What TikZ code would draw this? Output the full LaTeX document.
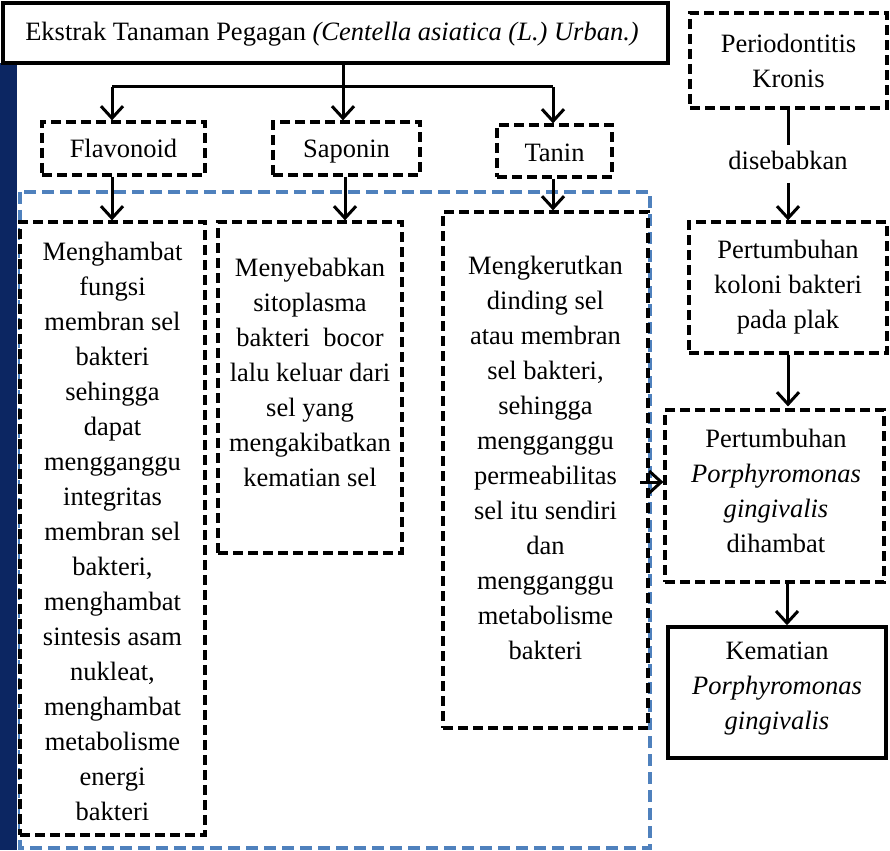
\documentclass[tikz,border=0pt]{standalone}
\usepackage{fontspec}
\setmainfont{Liberation Serif}
\usetikzlibrary{arrows.meta}
\definecolor{barblue}{RGB}{12,38,98}
\definecolor{dashblue}{RGB}{79,129,189}
\tikzset{
  dbox/.style={draw=black, line width=3.2pt, dash pattern=on 10pt off 5pt, fill=white, inner sep=0pt},
  sbox/.style={draw=black, line width=3.5pt, fill=white, inner sep=0pt},
  txt/.style={inner sep=0pt, align=center, font=\fontsize{26.5}{35}\selectfont},
  conn/.style={line width=3pt},
  arr/.style={line width=3pt, -{Straight Barb[length=12pt,width=22pt,line width=3pt]}},
}
\begin{document}
\begin{tikzpicture}[x=1pt,y=-1pt]
\useasboundingbox (0,0) rectangle (890,850);
% left bar
\fill[barblue] (0,63) rectangle (17,850);
% blue dashed region
\draw[dashblue, line width=4pt, dash pattern=on 12pt off 6pt] (20,192) rectangle (650,848);

% top box
\node[sbox, minimum width=665pt, minimum height=60pt] (top) at (335.5,33) {};
\node[txt, anchor=base] (toptxt) at (332,41) {Ekstrak Tanaman Pegagan \textit{(Centella asiatica (L.) Urban.)}};

% compound boxes
\node[dbox, minimum width=163pt, minimum height=53pt] (fla) at (123.5,148.5) {};
\node[txt, anchor=base] (flatxt) at (123.5,158) {Flavonoid};
\node[dbox, minimum width=147pt, minimum height=53pt] (sap) at (346.5,148.5) {};
\node[txt, anchor=base] (saptxt) at (346.5,158) {Saponin};
\node[dbox, minimum width=115pt, minimum height=52pt] (tan) at (554.5,151) {};
\node[txt, anchor=base] (tantxt) at (554.5,162) {Tanin};

% effect boxes
\node[dbox, minimum width=185pt, minimum height=613pt] (flab) at (112.5,528.5) {};
\node[txt] (flabtxt) at (112.5,531.5) {Menghambat\\fungsi\\membran sel\\bakteri\\sehingga\\dapat\\mengganggu\\integritas\\membran sel\\bakteri,\\menghambat\\sintesis asam\\nukleat,\\menghambat\\metabolisme\\energi\\bakteri};
\node[dbox, minimum width=184pt, minimum height=331pt] (sapb) at (310,387.5) {};
\node[txt] (sapbtxt) at (310,372) {Menyebabkan\\sitoplasma\\bakteri~~bocor\\lalu keluar dari\\sel yang\\mengakibatkan\\kematian sel};
\node[dbox, minimum width=205pt, minimum height=516pt] (tanb) at (545.5,470) {};
\node[txt] (tanbtxt) at (545.5,457.5) {Mengkerutkan\\dinding sel\\atau membran\\sel bakteri,\\sehingga\\mengganggu\\permeabilitas\\sel itu sendiri\\dan\\mengganggu\\metabolisme\\bakteri};

% right column
\node[dbox, minimum width=197pt, minimum height=95pt] (per) at (788.5,60.5) {};
\node[txt] (pertxt) at (788.5,61) {Periodontitis\\Kronis};
\node[txt, anchor=base] (dis) at (788,170) {disebabkan};
\node[dbox, minimum width=198pt, minimum height=131pt] (kol) at (788,287.5) {};
\node[txt] (koltxt) at (788,287) {Pertumbuhan\\koloni bakteri\\pada plak};
\node[dbox, minimum width=219pt, minimum height=172pt] (dih) at (774.5,496) {};
\node[txt] (dihtxt) at (776,491) {Pertumbuhan\\\textit{Porphyromonas}\\\textit{gingivalis}\\dihambat};
\node[sbox, minimum width=218pt, minimum height=131pt] (kem) at (777,692.5) {};
\node[txt] (kemtxt) at (777,689) {Kematian\\\textit{Porphyromonas}\\\textit{gingivalis}};

% connectors from top box
\coordinate (j) at (343,87);
\coordinate (jf) at (112,87);
\coordinate (jt) at (553,87);
\draw[conn] (top.south -| j) -- (j);
\draw[conn] (jf) -- (jt);
\draw[arr] (jf) -- (jf |- fla.north);
\draw[arr] (j) -- (j |- sap.north);
\draw[arr] (jt) -- (jt |- tan.north);
% compound to effect
\coordinate (ff) at (112,175);
\draw[arr] (ff |- fla.south) -- (ff |- flab.north);
\coordinate (sf) at (345,175);
\draw[arr] (sf |- sap.south) -- (sf |- sapb.north);
\coordinate (tf) at (553,177);
\draw[arr] (tf |- tan.south) -- (tf |- tanb.north);
% tanin effect to dihambat
\coordinate (td) at (640,482);
\draw[arr] (td) -- (td -| dih.west);
% right column
\draw[conn] (per.south) -- ([yshift=-35pt]per.south);
\coordinate (dd) at (788,183);
\draw[arr] (dd) -- (dd |- kol.north);
\draw[arr] (kol.south) -- ([yshift=2pt]kol.south |- dih.north);
\coordinate (dk) at (787,582);
\draw[arr] (dk) -- (dk |- kem.north);
\end{tikzpicture}
\end{document}
